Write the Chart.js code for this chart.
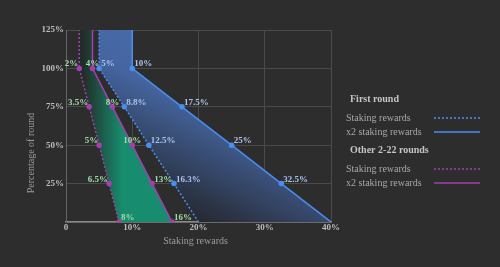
<!DOCTYPE html>
<html>
<head>
<meta charset="utf-8">
<script src="https://cdn.jsdelivr.net/npm/chart.js@4.4.0/dist/chart.umd.min.js"></script>
<style>
html, body { margin: 0; padding: 0; background: #2d2d2d; }
#wrap { width: 500px; height: 267px; position: relative; }
</style>
</head>
<body>
<div id="wrap"><canvas id="chart" width="500" height="267"></canvas></div>
<script>
// percentage of round (y) and staking rewards (x) for each line
const roundLevels = [0, 25, 50, 75, 100, 125];
const firstStaking = [20, 16.3, 12.5, 8.8, 5, 5];
const firstDouble = [40, 32.5, 25, 17.5, 10, 10];
const otherStaking = [8, 6.5, 5, 3.5, 2, 2];
const otherDouble = [16, 13, 10, 7, 4, 4];

// point labels as written on the chart
const firstStakingLabels = ['', '16.3%', '12.5%', '8.8%', '5%', ''];
const firstDoubleLabels = ['', '32.5%', '25%', '17.5%', '10%', ''];
const otherStakingLabels = ['8%', '6.5%', '5%', '3.5%', '2%', ''];
const otherDoubleLabels = ['16%', '13%', '10%', '8%', '4%', ''];

const xTickLabels = ['0', '10%', '20%', '30%', '40%'];
const yTickLabels = ['', '25%', '50%', '75%', '100%', '125%'];

const BLUE = '#4a8ef2';
const PURPLE = '#a53fae';
const FONT = '"Liberation Serif", "DejaVu Serif", serif';

function toPoints(xs) {
    return xs.map((x, i) => ({ x: x, y: roundLevels[i] }));
}

// gradient fills, built once the chart area is known
function blueFill(context) {
    const chart = context.chart;
    if (!chart.chartArea) return 'rgba(74,110,176,0.8)';
    const sx = chart.scales.x, sy = chart.scales.y;
    const g = chart.ctx.createLinearGradient(
        sx.getPixelForValue(29), sy.getPixelForValue(118),
        sx.getPixelForValue(17), sy.getPixelForValue(8));
    g.addColorStop(0, '#4a6fb2');
    g.addColorStop(0.45, '#4565a0');
    g.addColorStop(1, '#262a33');
    return g;
}

function greenFill(context) {
    const chart = context.chart;
    if (!chart.chartArea) return '#188c6e';
    const sx = chart.scales.x;
    const g = chart.ctx.createLinearGradient(sx.getPixelForValue(2.5), 0, sx.getPixelForValue(8.5), 0);
    g.addColorStop(0, '#222b28');
    g.addColorStop(1, '#188c6e');
    return g;
}

// draws the percentage text next to each point
const pointLabels = {
    id: 'pointLabels',
    afterDatasetsDraw(chart) {
        const ctx = chart.ctx;
        ctx.save();
        ctx.font = 'bold 9px ' + FONT;
        ctx.textBaseline = 'alphabetic';
        chart.data.datasets.forEach((ds, di) => {
            const meta = chart.getDatasetMeta(di);
            meta.data.forEach((pt, i) => {
                const text = ds.pointText[i];
                if (!text) return;
                const align = ds.textAlign[i];
                let x = pt.x;
                if (align === 'left') x += 2;
                if (align === 'right') x -= 1;
                ctx.textAlign = align;
                ctx.fillStyle = ds.textColor;
                ctx.fillText(text, x, pt.y - 2);
            });
        });
        ctx.restore();
    }
};

// axis titles and the grouped legend on the right
const legendGroups = [
    { title: 'First round', items: [
        { text: 'Staking rewards', color: BLUE, dash: [2, 2] },
        { text: 'x2 staking rewards', color: BLUE, dash: [] }
    ] },
    { title: 'Other 2-22 rounds', items: [
        { text: 'Staking rewards', color: PURPLE, dash: [2, 2] },
        { text: 'x2 staking rewards', color: PURPLE, dash: [] }
    ] }
];

const extras = {
    id: 'extras',
    afterDraw(chart) {
        const ctx = chart.ctx;
        const area = chart.chartArea;
        ctx.save();
        ctx.fillStyle = '#9c9c9c';
        ctx.font = '10px ' + FONT;
        ctx.textAlign = 'center';
        ctx.textBaseline = 'middle';
        ctx.fillText('Staking rewards', (area.left + area.right) / 2 - 3, 241);
        ctx.translate(31, 153);
        ctx.rotate(-Math.PI / 2);
        ctx.fillText('Percentage of round', 0, 0);
        ctx.restore();

        ctx.save();
        ctx.textBaseline = 'middle';
        ctx.textAlign = 'left';
        let y = 99;
        legendGroups.forEach(group => {
            ctx.font = 'bold 10px ' + FONT;
            ctx.fillStyle = '#c4c4c4';
            ctx.fillText(group.title, 350, y);
            y += 19;
            group.items.forEach(item => {
                ctx.font = '10px ' + FONT;
                ctx.fillStyle = '#a8a8a8';
                ctx.fillText(item.text, 346, y);
                ctx.strokeStyle = item.color;
                ctx.lineWidth = 1.5;
                ctx.setLineDash(item.dash);
                ctx.beginPath();
                ctx.moveTo(434, y);
                ctx.lineTo(480, y);
                ctx.stroke();
                ctx.setLineDash([]);
                y += 14;
            });
            y += 4;
        });
        ctx.restore();
    }
};

const ctx = document.getElementById('chart').getContext('2d');
const chart = new Chart(ctx, {
    type: 'line',
    data: {
        datasets: [
            {
                label: 'First round staking rewards',
                data: toPoints(firstStaking),
                borderColor: BLUE,
                backgroundColor: BLUE,
                borderWidth: 1.5,
                borderDash: [2, 2],
                pointRadius: [0, 2, 2, 2, 2, 0],
                fill: false,
                pointText: firstStakingLabels,
                textAlign: ['left', 'left', 'left', 'left', 'left', 'left'],
                textColor: '#a9c3ec'
            },
            {
                label: 'First round x2 staking rewards',
                data: toPoints(firstDouble),
                borderColor: BLUE,
                pointBackgroundColor: BLUE,
                backgroundColor: blueFill,
                borderWidth: 1.5,
                pointRadius: [0, 2, 2, 2, 2, 0],
                fill: 0,
                pointText: firstDoubleLabels,
                textAlign: ['left', 'left', 'left', 'left', 'left', 'left'],
                textColor: '#a9c3ec'
            },
            {
                label: 'Other rounds staking rewards',
                data: toPoints(otherStaking),
                borderColor: PURPLE,
                backgroundColor: PURPLE,
                borderWidth: 1.5,
                borderDash: [2, 2],
                pointRadius: [2, 2, 2, 2, 2, 0],
                fill: false,
                pointText: otherStakingLabels,
                textAlign: ['left', 'right', 'right', 'right', 'right', 'right'],
                textColor: '#9fdcaa'
            },
            {
                label: 'Other rounds x2 staking rewards',
                data: toPoints(otherDouble),
                borderColor: PURPLE,
                pointBackgroundColor: PURPLE,
                backgroundColor: greenFill,
                borderWidth: 1.5,
                pointRadius: [2, 2, 2, 2, 2, 0],
                fill: 2,
                pointText: otherDoubleLabels,
                textAlign: ['left', 'left', 'center', 'center', 'center', 'center'],
                textColor: '#9fdcaa'
            }
        ]
    },
    options: {
        indexAxis: 'y',
        responsive: false,
        animation: false,
        layout: { padding: { left: 39.5, right: 169, top: 30, bottom: 34 } },
        plugins: { legend: { display: false }, tooltip: { enabled: false } },
        elements: { line: { tension: 0 }, point: { borderWidth: 0 } },
        scales: {
            x: {
                type: 'linear',
                min: 0,
                max: 40,
                grid: { color: '#4a4a4a', drawTicks: false },
                border: { color: '#8a8a8a', width: 1.5 },
                ticks: {
                    stepSize: 10,
                    padding: 1,
                    color: '#bdbdbd',
                    font: { family: FONT, size: 9, weight: 'bold', lineHeight: 1 },
                    callback: (v) => xTickLabels[v / 10]
                }
            },
            y: {
                type: 'linear',
                min: 0,
                max: 125,
                grid: { color: '#4a4a4a', drawTicks: false },
                border: { color: '#666666' },
                ticks: {
                    stepSize: 25,
                    padding: 2,
                    color: '#bdbdbd',
                    font: { family: FONT, size: 9, weight: 'bold' },
                    callback: (v) => yTickLabels[v / 25]
                }
            }
        }
    },
    plugins: [pointLabels, extras]
});
</script>
</body>
</html>
